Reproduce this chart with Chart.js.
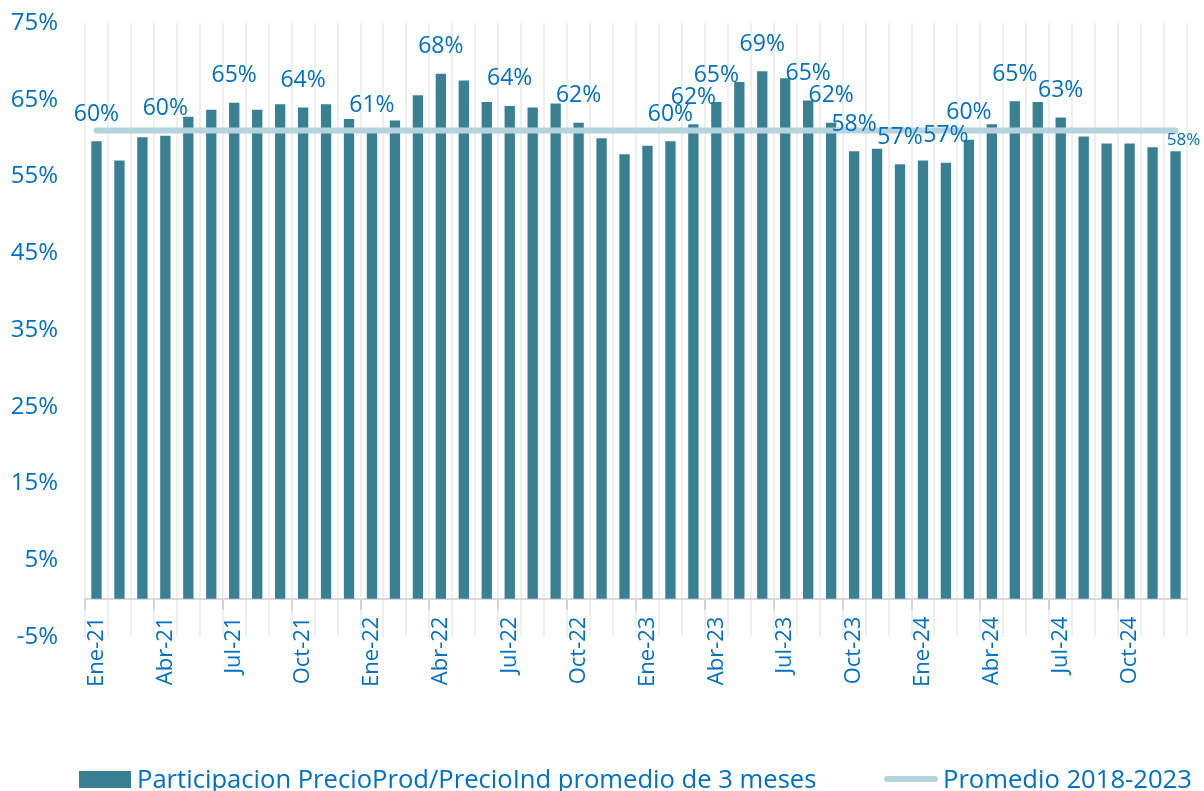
<!doctype html>
<html>

<head>
	<title>Participacion PrecioProd/PrecioInd</title>
	<script src="https://cdn.jsdelivr.net/npm/chart.js@4.4.1/dist/chart.umd.min.js"></script>
	<style>
		body {
			margin: 0;
			background: #fff;
		}
		#wrap {
			width: 1204px;
			height: 791px;
		}
	</style>
</head>

<body>
	<div id="wrap">
		<canvas id="canvas"></canvas>
	</div>
	<script>
		const meses = [
			'Ene-21', 'Feb-21', 'Mar-21', 'Abr-21', 'May-21', 'Jun-21', 'Jul-21', 'Ago-21', 'Sep-21', 'Oct-21', 'Nov-21', 'Dic-21',
			'Ene-22', 'Feb-22', 'Mar-22', 'Abr-22', 'May-22', 'Jun-22', 'Jul-22', 'Ago-22', 'Sep-22', 'Oct-22', 'Nov-22', 'Dic-22',
			'Ene-23', 'Feb-23', 'Mar-23', 'Abr-23', 'May-23', 'Jun-23', 'Jul-23', 'Ago-23', 'Sep-23', 'Oct-23', 'Nov-23', 'Dic-23',
			'Ene-24', 'Feb-24', 'Mar-24', 'Abr-24', 'May-24', 'Jun-24', 'Jul-24', 'Ago-24', 'Sep-24', 'Oct-24', 'Nov-24', 'Dic-24'
		];

		// participacion promedio movil 3 meses (%)
		const participacion = [
			59.6, 57.1, 60.1, 60.3, 62.8, 63.7, 64.6, 63.7, 64.4, 64.0, 64.4, 62.5,
			60.7, 62.3, 65.6, 68.4, 67.5, 64.7, 64.2, 64.0, 64.5, 62.0, 60.0, 57.9,
			59.0, 59.6, 61.8, 64.7, 67.3, 68.7, 67.8, 64.9, 62.0, 58.3, 58.6, 56.6,
			57.1, 56.8, 59.8, 61.8, 64.8, 64.7, 62.7, 60.2, 59.3, 59.3, 58.8, 58.3
		];

		// promedio 2018-2023 (%)
		const promedio = [
			61, 61, 61, 61, 61, 61, 61, 61, 61, 61, 61, 61,
			61, 61, 61, 61, 61, 61, 61, 61, 61, 61, 61, 61,
			61, 61, 61, 61, 61, 61, 61, 61, 61, 61, 61, 61,
			61, 61, 61, 61, 61, 61, 61, 61, 61, 61, 61, 61
		];

		// meses que llevan etiqueta de valor
		const conEtiqueta = [0, 3, 6, 9, 12, 15, 18, 21, 25, 26, 27, 29, 31, 32, 33, 35, 37, 38, 40, 42, 47];

		const series = ['Participacion PrecioProd/PrecioInd promedio de 3 meses', 'Promedio 2018-2023'];

		const colorBarra = '#3A8093';
		const colorPromedio = '#B5D3DD';
		const colorTexto = '#0070C0';

		Chart.defaults.font.family = "'Open Sans', sans-serif";

		const etiquetasPlugin = {
			id: 'etiquetas',
			afterDatasetsDraw(chart) {
				const meta = chart.getDatasetMeta(0);
				const ctx = chart.ctx;
				ctx.save();
				ctx.fillStyle = colorTexto;
				ctx.textAlign = 'center';
				ctx.textBaseline = 'middle';
				conEtiqueta.forEach((i) => {
					const bar = meta.data[i];
					const ultimo = i === participacion.length - 1;
					ctx.font = (ultimo ? '17px' : '23px') + " 'Open Sans'";
					ctx.fillText(Math.round(participacion[i]) + '%', bar.x + (ultimo ? 8 : 0), bar.y - (ultimo ? 11 : 27));
				});
				ctx.restore();
			}
		};

		const leyendaPlugin = {
			id: 'leyenda',
			afterDraw(chart) {
				const ctx = chart.ctx;
				ctx.save();
				ctx.font = "25.6px 'Open Sans'";
				ctx.textBaseline = 'alphabetic';
				ctx.fillStyle = colorBarra;
				ctx.fillRect(79, 771, 52, 17);
				ctx.fillStyle = colorTexto;
				ctx.fillText(series[0], 137, 788);
				ctx.strokeStyle = colorPromedio;
				ctx.lineWidth = 6;
				ctx.lineCap = 'round';
				ctx.beginPath();
				ctx.moveTo(887, 779);
				ctx.lineTo(935, 779);
				ctx.stroke();
				ctx.fillText(series[1], 943, 788);
				ctx.restore();
			}
		};

		const config = {
			type: 'bar',
			data: {
				labels: meses,
				datasets: [{
					label: series[0],
					data: participacion,
					backgroundColor: colorBarra,
					barPercentage: 0.45,
					categoryPercentage: 1,
					order: 1
				}, {
					type: 'line',
					label: series[1],
					data: promedio,
					borderColor: colorPromedio,
					borderWidth: 6,
					borderCapStyle: 'round',
					pointRadius: 0,
					fill: false,
					order: 0
				}]
			},
			options: {
				responsive: true,
				maintainAspectRatio: false,
				animation: false,
				layout: {
					padding: { top: 23, right: 17, bottom: 154, left: 0 }
				},
				plugins: {
					legend: { display: false },
					tooltip: { enabled: false }
				},
				scales: {
					x: {
						position: { y: 0 },
						offset: true,
						grid: {
							offset: true,
							color: '#EFEFEF',
							lineWidth: 2,
							drawTicks: true,
							tickLength: 10,
							tickWidth: 2,
							tickColor: (c) => (c.index % 3 === 0 ? '#D4D4D4' : 'rgba(0,0,0,0)')
						},
						border: { color: '#D9D9D9', width: 2 },
						ticks: {
							autoSkip: false,
							minRotation: 90,
							maxRotation: 90,
							padding: 8,
							color: colorTexto,
							font: { size: 22, lineHeight: 0.9 },
							callback(value, index) {
								return index % 3 === 0 ? meses[index] : '';
							}
						}
					},
					y: {
						min: -5,
						max: 75,
						grid: {
							drawOnChartArea: false,
							drawTicks: true,
							tickLength: 24,
							tickColor: 'rgba(0,0,0,0)'
						},
						border: { display: false },
						afterFit(scale) {
							scale.width = 85;
						},
						ticks: {
							stepSize: 10,
							padding: 3,
							color: colorTexto,
							font: { size: 24 },
							callback: (v) => v + '%'
						}
					}
				}
			},
			plugins: [etiquetasPlugin, leyendaPlugin]
		};

		window.onload = function() {
			const ctx = document.getElementById('canvas').getContext('2d');
			window.myChart = new Chart(ctx, config);
		};
	</script>
</body>

</html>
